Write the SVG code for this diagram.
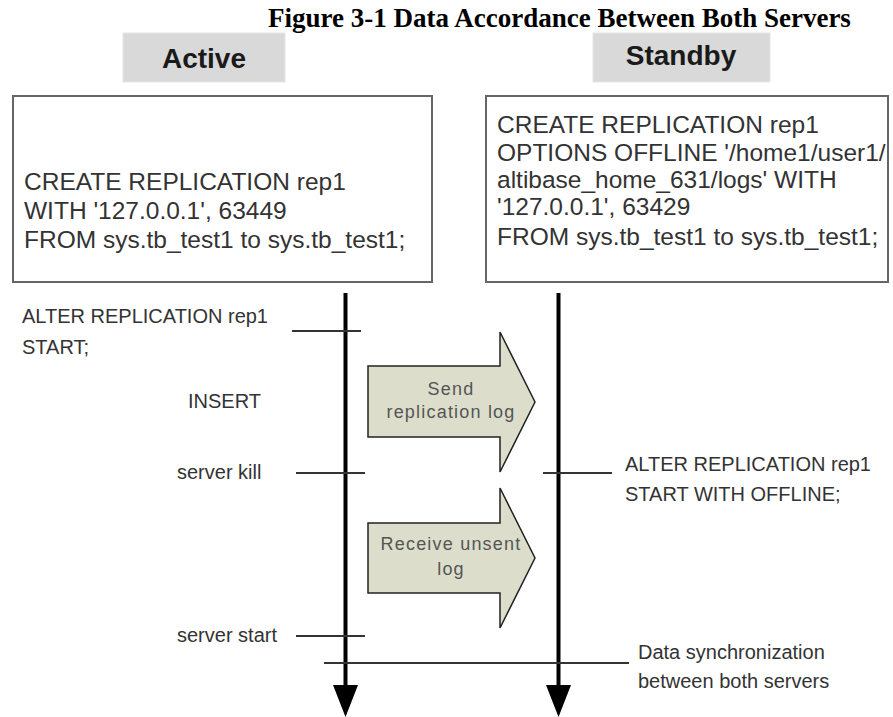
<svg xmlns="http://www.w3.org/2000/svg" width="893" height="717" viewBox="0 0 893 717">
<style>
.t{font-family:"Liberation Sans",Arial,sans-serif;fill:#333}
.lbl{font-size:20px}
.code{font-size:24.5px}
.hdr{font-family:"Liberation Sans",Arial,sans-serif;font-weight:bold;font-size:28px;fill:#1a1a1a}
.hbox{fill:#d9d9d9;stroke:#e6e6e6;stroke-width:1}
.box{fill:#fff;stroke:#666;stroke-width:2}
.life{stroke:#000;stroke-width:4;fill:none}
.tick{stroke:#333;stroke-width:2;fill:none}
.blk{fill:#dcdecb;stroke:#222;stroke-width:1.5;stroke-linejoin:miter}
.at{font-family:"Liberation Sans",Arial,sans-serif;font-size:18px;fill:#555;letter-spacing:1.2px;text-anchor:middle}
</style>
<defs>
<marker id="ah" markerWidth="32" markerHeight="25" refX="0" refY="12.5" orient="auto" markerUnits="userSpaceOnUse" viewBox="0 0 32 25">
<path d="M0,0 L32,12.5 L0,25 Z" fill="#000"/>
</marker>
</defs>
<rect width="893" height="717" fill="#fff"/>
<g id="title">
<text x="268" y="27" style="font-family:'Liberation Serif','Times New Roman',serif;font-weight:bold;font-size:27px;fill:#000">Figure 3-1 Data Accordance Between Both Servers</text>
</g>
<g id="hdr-active">
<rect class="hbox" x="123" y="33" width="162" height="49"/>
<text class="hdr" x="204" y="68" text-anchor="middle">Active</text>
</g>
<g id="hdr-standby">
<rect class="hbox" x="593" y="33" width="177" height="49"/>
<text class="hdr" x="681" y="65" text-anchor="middle">Standby</text>
</g>
<g id="box-active">
<rect class="box" x="13" y="96" width="419" height="186"/>
<text class="t code" x="24" y="190">CREATE REPLICATION rep1</text>
<text class="t code" x="24" y="219">WITH '127.0.0.1', 63449</text>
<text class="t code" x="24" y="248">FROM sys.tb_test1 to sys.tb_test1;</text>
</g>
<g id="box-standby">
<rect class="box" x="486" y="96" width="402" height="186"/>
<text class="t code" x="497" y="133">CREATE REPLICATION rep1</text>
<text class="t code" x="497" y="161">OPTIONS OFFLINE '/home1/user1/</text>
<text class="t code" x="497" y="188">altibase_home_631/logs' WITH</text>
<text class="t code" x="497" y="215">'127.0.0.1', 63429</text>
<text class="t code" x="497" y="245">FROM sys.tb_test1 to sys.tb_test1;</text>
</g>
<g id="connectors">
<line class="life" x1="345.5" y1="293" x2="345.5" y2="685" marker-end="url(#ah)"/>
<line class="life" x1="558.5" y1="293" x2="558.5" y2="685" marker-end="url(#ah)"/>
<line class="tick" x1="292" y1="331" x2="361" y2="331"/>
<line class="tick" x1="296" y1="473" x2="365" y2="473"/>
<line class="tick" x1="543" y1="473" x2="612" y2="473"/>
<line class="tick" x1="296" y1="636" x2="365" y2="636"/>
<line class="tick" x1="324" y1="663" x2="629" y2="663"/>
</g>
<g id="lbl-alter-active">
<text class="t lbl" x="22" y="323">ALTER REPLICATION rep1</text>
<text class="t lbl" x="22" y="354">START;</text>
</g>
<g id="lbl-insert"><text class="t lbl" x="188" y="408">INSERT</text></g>
<g id="lbl-kill"><text class="t lbl" x="177" y="479">server kill</text></g>
<g id="lbl-start"><text class="t lbl" x="177" y="642">server start</text></g>
<g id="lbl-alter-standby">
<text class="t lbl" x="625" y="471">ALTER REPLICATION rep1</text>
<text class="t lbl" x="625" y="501">START WITH OFFLINE;</text>
</g>
<g id="lbl-sync">
<text class="t lbl" x="638" y="659">Data synchronization</text>
<text class="t lbl" x="638" y="688">between both servers</text>
</g>
<g id="arrow-send">
<polygon class="blk" points="368,366 500,366 500,332 535,402 500,472 500,437 368,437"/>
<text class="at" x="451" y="395">Send</text>
<text class="at" x="451" y="418">replication log</text>
</g>
<g id="arrow-receive">
<polygon class="blk" points="368,523 500,523 500,488 535,558 500,628 500,593 368,593"/>
<text class="at" x="451" y="550">Receive unsent</text>
<text class="at" x="451" y="575">log</text>
</g>
</svg>
